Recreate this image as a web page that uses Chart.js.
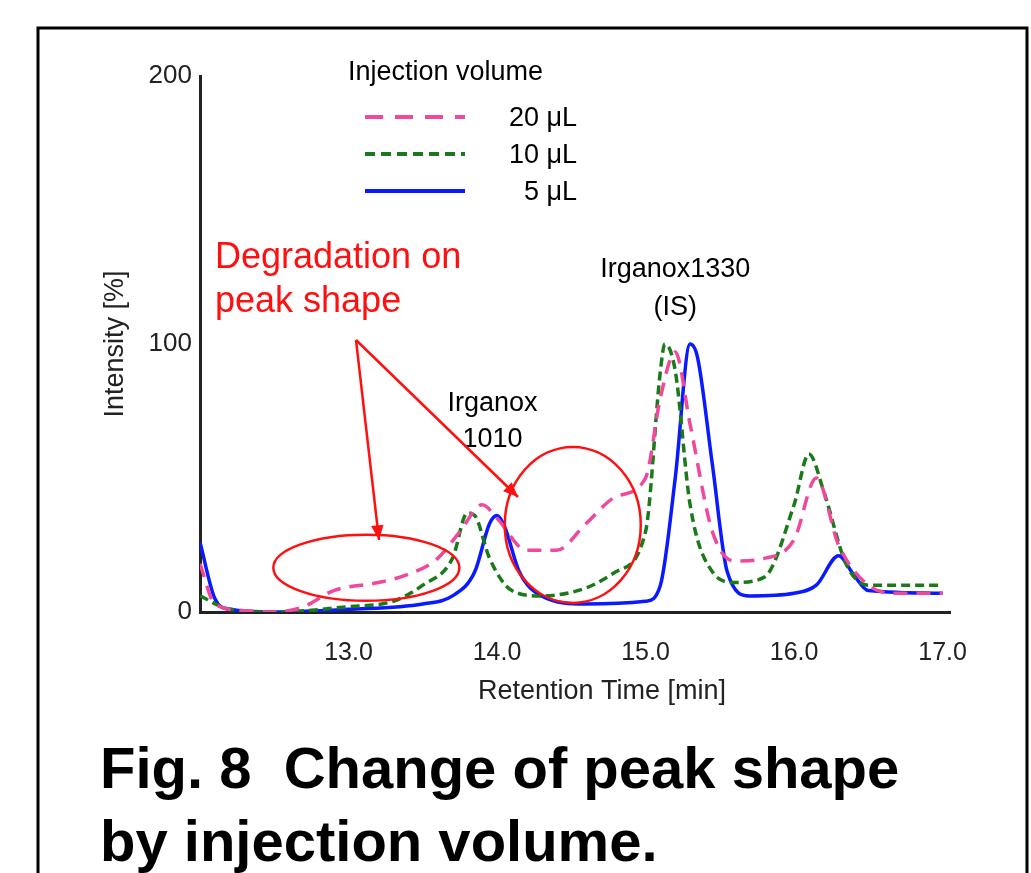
<!DOCTYPE html>
<html>
<head>
<meta charset="utf-8">
<script src="https://cdn.jsdelivr.net/npm/chart.js@4.4.0/dist/chart.umd.min.js"></script>
<style>
	html, body { margin: 0; padding: 0; background: #fff; }
	#wrap { width: 1031px; height: 873px; position: relative; }
</style>
</head>
<body>
<div id="wrap"><canvas id="chart" width="1031" height="873"></canvas></div>
<script>
// retention time [min] / intensity [%]
const rt20 = [12.0, 12.1, 12.3, 12.5, 12.7, 12.9, 13.2, 13.4, 13.6, 13.75, 13.9, 14.0, 14.2, 14.4, 14.6, 14.8, 15.0, 15.1, 15.2, 15.3, 15.45, 15.6, 15.8, 16.0, 16.15, 16.3, 16.5, 16.7, 17.0];
const int20 = [18, 3, 0.5, 0, 2, 8, 11, 14, 20, 30, 40, 35, 23, 23, 33, 43, 50, 80, 97, 70, 30, 19, 20, 27, 50, 25, 10, 7, 7];
const rt10 = [12.0, 12.2, 12.5, 13.0, 13.3, 13.5, 13.7, 13.8, 13.85, 13.95, 14.1, 14.3, 14.6, 14.8, 15.0, 15.1, 15.13, 15.2, 15.3, 15.45, 15.6, 15.8, 16.0, 16.1, 16.2, 16.35, 16.5, 17.0];
const int10 = [6, 1, 0, 2, 4, 10, 20, 37, 36, 20, 8, 6, 9, 15, 30, 90, 100, 90, 40, 15, 11, 13, 40, 59, 45, 18, 10, 10];
const rt5 = [12.0, 12.1, 12.2, 12.5, 13.0, 13.5, 13.7, 13.85, 13.95, 14.0, 14.05, 14.15, 14.3, 14.6, 15.0, 15.1, 15.2, 15.3, 15.35, 15.45, 15.55, 15.7, 16.0, 16.15, 16.3, 16.4, 16.5, 17.0];
const int5 = [26, 5, 1, 0, 1, 3, 6, 15, 33, 36, 32, 15, 6, 3, 4, 10, 50, 100, 95, 55, 15, 6, 7, 10, 21, 14, 8, 7];
const xTicks = [13.0, 14.0, 15.0, 16.0, 17.0];
const yTicks = [0, 100, 200];
const seriesNames = ["20 μL", "10 μL", " 5 μL"];

const pts = (xs, ys) => xs.map((x, i) => ({ x: x, y: ys[i] }));
const font = "'Liberation Sans', Arial, sans-serif";

const decor = {
	id: "decor",
	afterDraw(chart) {
		const c = chart.ctx;
		const sx = chart.scales.x, sy = chart.scales.y;
		c.save();
		// frame
		c.strokeStyle = "#000"; c.lineWidth = 3;
		c.beginPath(); c.moveTo(38, 880); c.lineTo(38, 28); c.lineTo(1027, 28); c.lineTo(1027, 880); c.stroke();
		// axis titles
		c.fillStyle = "#222"; c.font = "27px " + font; c.textAlign = "center"; c.textBaseline = "middle";
		c.fillText("Retention Time [min]", 602, 692);
		c.save(); c.translate(116, 344); c.rotate(-Math.PI / 2); c.fillText("Intensity [%]", 0, 0); c.restore();
		// legend
		c.fillStyle = "#000"; c.textAlign = "left";
		c.fillText("Injection volume", 348, 73);
		const legend = [["#f0489a", [18, 12], 4], ["#1a7a1a", [10, 6], 4], ["#0a1aff", [], 4]];
		legend.forEach((l, i) => {
			const y = 117 + i * 37;
			c.strokeStyle = l[0]; c.lineWidth = l[2]; c.setLineDash(l[1]);
			c.beginPath(); c.moveTo(365, y); c.lineTo(465, y); c.stroke();
			c.setLineDash([]);
			c.textAlign = "right"; c.fillText(seriesNames[i], 577, y + 2);
		});
		// peak labels
		c.textAlign = "center"; c.font = "27px " + font;
		c.fillText("Irganox1330", sx.getPixelForValue(15.2), 270);
		c.fillText("(IS)", sx.getPixelForValue(15.2), 308);
		c.fillText("Irganox", sx.getPixelForValue(13.97), 404);
		c.fillText("1010", sx.getPixelForValue(13.97), 440);
		// red annotations
		c.fillStyle = "#ff1010"; c.strokeStyle = "#ff1010"; c.lineWidth = 2.5;
		c.textAlign = "left"; c.font = "36px " + font;
		c.fillText("Degradation on", 215, 258);
		c.fillText("peak shape", 215, 302);
		c.beginPath(); c.ellipse(sx.getPixelForValue(13.12), sy.getPixelForValue(16.5), 93, 33, 0, 0, Math.PI * 2); c.stroke();
		c.beginPath(); c.ellipse(sx.getPixelForValue(14.51), sy.getPixelForValue(32.5), 68, 78, 0, 0, Math.PI * 2); c.stroke();
		const arrow = (x0, y0, x1, y1) => {
			const a = Math.atan2(y1 - y0, x1 - x0);
			c.beginPath(); c.moveTo(x0, y0); c.lineTo(x1, y1); c.stroke();
			c.beginPath(); c.moveTo(x1, y1);
			c.lineTo(x1 - 16 * Math.cos(a - 0.4), y1 - 16 * Math.sin(a - 0.4));
			c.lineTo(x1 - 16 * Math.cos(a + 0.4), y1 - 16 * Math.sin(a + 0.4));
			c.closePath(); c.fill();
		};
		arrow(356, 340, 379, 540);
		arrow(356, 340, 518, 497);
		// caption
		c.fillStyle = "#000"; c.font = "bold 58px " + font;
		c.fillText("Fig. 8  Change of peak shape", 100, 772);
		c.fillText("by injection volume.", 100, 845);
		c.restore();
	}
};

new Chart(document.getElementById("chart"), {
	type: "line",
	data: {
		datasets: [
			{ label: seriesNames[0], data: pts(rt20, int20), borderColor: "#f0489a", borderWidth: 3.5, borderDash: [14, 9] },
			{ label: seriesNames[1], data: pts(rt10, int10), borderColor: "#1a7a1a", borderWidth: 3.5, borderDash: [9, 5] },
			{ label: seriesNames[2], data: pts(rt5, int5), borderColor: "#0a1aff", borderWidth: 3.5 },
		],
	},
	options: {
		responsive: false,
		animation: false,
		elements: { point: { radius: 0 }, line: { cubicInterpolationMode: "monotone" } },
		layout: { padding: { top: 76, right: 81, left: 0, bottom: 0 } },
		plugins: { legend: { display: false }, tooltip: { enabled: false } },
		scales: {
			x: {
				type: "linear", min: 12.0, max: 17.05,
				afterFit(s) { s.height = 261; },
				afterBuildTicks(s) { s.ticks = xTicks.map(v => ({ value: v })); },
				grid: { display: false, drawTicks: true, tickLength: 6, tickColor: "#000" },
				border: { color: "#222", width: 3 },
				ticks: { color: "#222", font: { size: 25, family: font }, callback: v => v.toFixed(1), maxRotation: 0, padding: 20 },
			},
			y: {
				min: 0, max: 200,
				afterFit(s) { s.width = 200; },
				afterBuildTicks(s) { s.ticks = yTicks.map(v => ({ value: v })); },
				grid: { display: false, tickLength: 6, tickColor: "#000" },
				border: { color: "#222", width: 3 },
				ticks: { color: "#222", font: { size: 26, family: font }, padding: 2 },
			},
		},
	},
	plugins: [decor],
});
</script>
</body>
</html>
